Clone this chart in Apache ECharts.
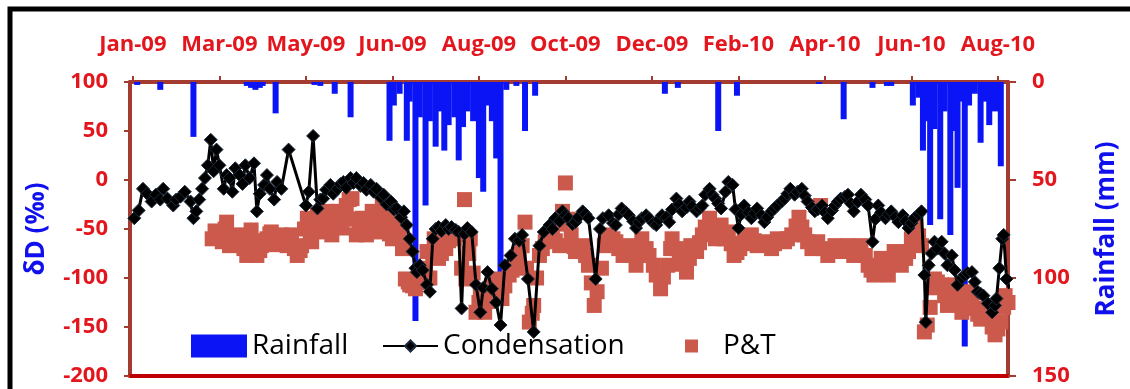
<!DOCTYPE html>
<html>
<head>
<meta charset="utf-8">
<script src="https://cdn.jsdelivr.net/npm/echarts@6/dist/echarts.min.js"></script>
<style>
  html, body { margin: 0; padding: 0; background: #fff; }
  #chart { width: 1130px; height: 389px; }
</style>
</head>
<body>
<div id="chart"></div>
<script>
// x values are days counted from 1 Jan 2009
const tickDays = [0, 60, 120, 180, 240, 300, 360, 420, 480, 540, 600];
const tickLabels = ["Jan-09", "Mar-09", "May-09", "Jun-09", "Aug-09", "Oct-09",
  "Dec-09", "Feb-10", "Apr-10", "Jun-10", "Aug-10"];

// daily rainfall (mm), [day, mm]
const rainfall = [
  [3, 1.5], [19, 4], [42, 28], [79, 2], [82, 3], [85, 4], [88, 3], [90, 2], [99, 16],
  [126, 1.5], [130, 2], [140, 6], [151, 18], [178, 30], [181, 12], [185, 6], [190, 30],
  [192, 10], [196, 122], [199, 18], [203, 63], [206, 20], [210, 33], [213, 15], [216, 35],
  [219, 22], [223, 18], [226, 40], [229, 23], [232, 15], [236, 20], [240, 49], [243, 56],
  [246, 12], [249, 20], [252, 39], [255, 97], [259, 4], [266, 2], [272, 25], [279, 7],
  [369, 6], [378, 3], [406, 25], [419, 7], [476, 1], [493, 19], [513, 3], [523, 2],
  [526, 2], [541, 12], [545, 8], [548, 35], [551, 20], [553, 73], [556, 24], [560, 70],
  [563, 15], [567, 78], [570, 25], [572, 54], [575, 10], [577, 135], [580, 12], [584, 6],
  [588, 31], [591, 10], [594, 22], [598, 15], [602, 43]
];

// condensation dD (permil), [day, value]
const condensation = [
  [1, -39], [4, -31], [7, -9], [10, -14], [13, -22], [16, -15], [19, -20], [21, -9],
  [24, -19], [28, -26], [30, -20], [33, -17], [36, -12], [40, -22], [42, -39], [44, -32],
  [46, -20], [48, -9], [50, 2], [52, 15], [54, 41], [56, 9], [58, 31], [60, 15],
  [63, -9], [65, 5], [67, 2], [69, -12], [71, 12], [74, 5], [76, -4], [78, 15],
  [81, 2], [84, 17], [86, -32], [88, -14], [91, -5], [93, 5], [95, -9], [98, -20],
  [100, -2], [103, -9], [108, 31], [120, -26], [122, -12], [125, 45], [128, -29],
  [130, -20], [132, -19], [134, -10], [137, -5], [139, -14], [142, -9], [144, -4],
  [146, -2], [148, -8], [151, 2], [153, -3], [155, 2], [158, -6], [160, -3], [162, -10],
  [165, -5], [167, -12], [169, -9], [172, -18], [174, -15], [176, -25], [179, -22],
  [181, -30], [183, -29], [186, -38], [188, -32], [190, -46], [192, -60], [194, -73],
  [196, -90], [197, -94], [199, -87], [201, -92], [204, -107], [206, -114], [208, -60],
  [210, -50], [212, -48], [214, -52], [217, -46], [219, -50], [221, -48], [224, -51],
  [226, -53], [228, -131], [230, -55], [232, -49], [235, -53], [238, -107], [241, -135],
  [243, -110], [246, -94], [249, -111], [252, -125], [255, -148], [258, -87], [262, -77],
  [265, -60], [268, -62], [270, -56], [274, -101], [278, -155], [282, -67], [285, -53],
  [289, -46], [291, -50], [293, -39], [296, -42], [298, -32], [300, -36], [302, -39],
  [305, -45], [307, -43], [309, -38], [312, -32], [314, -35], [316, -39], [321, -101],
  [324, -50], [326, -39], [330, -36], [333, -44], [335, -46], [337, -35], [339, -29],
  [342, -33], [344, -36], [347, -42], [349, -49], [351, -43], [353, -39], [356, -36],
  [358, -39], [361, -44], [363, -46], [365, -40], [367, -36], [370, -38], [372, -43],
  [374, -30], [377, -19], [379, -25], [381, -32], [384, -28], [386, -22], [388, -27],
  [391, -32], [393, -29], [395, -26], [397, -15], [400, -9], [402, -15], [404, -19],
  [406, -24], [408, -29], [411, -12], [413, -2], [416, -5], [418, -30], [420, -49],
  [422, -35], [424, -26], [427, -33], [429, -39], [431, -34], [433, -29], [436, -36],
  [438, -43], [440, -38], [443, -32], [445, -29], [447, -26], [450, -22], [452, -19],
  [454, -14], [456, -9], [459, -15], [461, -12], [464, -9], [466, -16], [468, -22],
  [471, -28], [473, -32], [475, -30], [478, -26], [480, -33], [482, -39], [485, -31],
  [487, -26], [489, -22], [491, -19], [494, -17], [496, -15], [498, -24], [500, -32],
  [503, -22], [505, -15], [508, -20], [510, -26], [513, -63], [515, -40], [517, -26],
  [519, -33], [522, -39], [524, -35], [526, -32], [529, -38], [531, -43], [534, -36],
  [536, -42], [538, -49], [540, -44], [542, -39], [545, -35], [547, -32], [549, -97],
  [550, -145], [552, -87], [554, -75], [556, -63], [558, -70], [561, -63], [563, -75],
  [565, -87], [568, -77], [570, -92], [572, -107], [575, -100], [577, -97], [579, -95],
  [582, -94], [584, -104], [586, -114], [588, -116], [590, -118], [593, -126],
  [596, -135], [598, -128], [599, -121], [601, -90], [603, -60], [604, -56], [606, -101],
  [608, -111]
];

// precipitation & throughfall dD (permil), [day, value]
const pAndT = [
  [55, -60], [57, -52], [59, -55], [62, -63], [64, -50], [65, -43], [67, -67], [70, -58],
  [72, -56], [75, -60], [77, -70], [79, -77], [81, -60], [82, -51], [84, -66], [86, -77],
  [88, -72], [89, -67], [91, -62], [93, -60], [95, -55], [96, -53], [98, -66], [100, -63],
  [102, -58], [103, -56], [105, -62], [107, -67], [109, -60], [110, -56], [112, -70],
  [114, -77], [116, -72], [117, -67], [119, -50], [121, -39], [123, -55], [124, -63],
  [126, -45], [128, -36], [130, -48], [131, -53], [133, -40], [135, -32], [137, -50],
  [138, -56], [140, -45], [142, -32], [143, -42], [145, -49], [147, -35], [148, -26],
  [150, -20], [152, -19], [154, -40], [155, -56], [157, -45], [159, -39], [161, -50],
  [162, -56], [164, -40], [166, -32], [168, -45], [169, -53], [171, -35], [173, -26],
  [175, -36], [176, -43], [178, -55], [180, -60], [182, -45], [183, -39], [185, -55],
  [187, -70], [189, -101], [191, -104], [192, -107], [194, -108], [196, -111],
  [197, -105], [199, -101], [201, -104], [203, -90], [204, -73], [206, -100], [208, -75],
  [209, -60], [211, -72], [212, -80], [214, -75], [217, -70], [219, -62], [221, -56],
  [223, -60], [225, -56], [228, -90], [230, -20], [231, -101], [233, -75], [234, -60],
  [236, -95], [238, -135], [240, -125], [241, -118], [243, -128], [244, -135],
  [246, -124], [248, -114], [250, -108], [252, -101], [254, -112], [256, -121],
  [258, -108], [261, -97], [263, -92], [265, -87], [268, -76], [270, -67], [272, -43],
  [273, -90], [275, -145], [277, -136], [278, -128], [280, -100], [282, -77], [284, -70],
  [286, -63], [289, -60], [291, -56], [293, -62], [296, -67], [297, -45], [298, -32],
  [300, -3], [302, -40], [304, -56], [306, -68], [307, -73], [310, -70], [312, -67],
  [314, -77], [316, -87], [318, -105], [320, -128], [322, -114], [325, -90], [327, -67],
  [329, -60], [330, -56], [333, -60], [335, -63], [337, -70], [340, -77], [342, -72],
  [344, -67], [346, -75], [349, -87], [351, -73], [353, -60], [356, -70], [358, -77],
  [361, -87], [363, -97], [366, -111], [368, -99], [371, -87], [373, -70], [374, -60],
  [377, -70], [379, -80], [381, -86], [384, -94], [386, -80], [387, -67], [389, -70],
  [391, -73], [393, -64], [395, -56], [397, -48], [400, -39], [402, -50], [404, -60],
  [406, -53], [408, -46], [410, -60], [413, -53], [415, -65], [417, -77], [419, -74],
  [421, -70], [423, -65], [424, -60], [427, -58], [429, -56], [431, -62], [433, -67],
  [436, -65], [438, -63], [440, -66], [443, -70], [445, -65], [447, -60], [450, -62],
  [452, -63], [454, -60], [457, -56], [460, -47], [462, -38], [464, -48], [466, -56],
  [468, -63], [471, -70], [473, -66], [475, -63], [477, -26], [479, -70], [482, -77],
  [484, -72], [487, -67], [489, -70], [491, -73], [494, -70], [496, -67], [498, -72],
  [500, -77], [503, -72], [505, -67], [508, -77], [510, -87], [512, -92], [514, -97],
  [517, -88], [519, -80], [521, -88], [524, -97], [526, -85], [528, -73], [531, -80],
  [533, -87], [536, -80], [538, -73], [540, -60], [542, -46], [545, -57], [547, -67],
  [549, -155], [551, -148], [553, -130], [555, -110], [556, -101], [558, -104],
  [561, -107], [563, -118], [565, -128], [568, -117], [570, -107], [572, -121],
  [575, -135], [577, -125], [579, -114], [582, -122], [584, -131], [586, -137],
  [588, -142], [591, -135], [593, -140], [596, -150], [598, -158], [600, -152],
  [602, -145], [604, -130], [605, -118], [607, -125]
];

const RED = "#e3161e";
const BLUE = "#1010ee";
const BROWN = "#a33b30";
const FONT = '"Open Sans", "DejaVu Sans", sans-serif';

const chart = echarts.init(document.getElementById("chart"), null, { renderer: "canvas" });

const legendText = { color: "#000", fontSize: 28, fontFamily: FONT };
const tickText = { color: RED, fontSize: 22, fontWeight: "bold", fontFamily: FONT };

chart.setOption({
  animation: false,
  backgroundColor: "#fff",
  textStyle: { fontFamily: FONT },
  grid: { left: 130, right: 122, top: 82, bottom: 13, containLabel: false },
  graphic: [{
    type: "rect",
    shape: { x: 10, y: 9, width: 1140, height: 400 },
    style: { fill: "rgba(0,0,0,0)", stroke: "#000", lineWidth: 5 }
  }],
  legend: [
    {
      data: ["Rainfall"], left: 186, top: 327, itemWidth: 56, itemHeight: 23,
      icon: "rect", itemGap: 0, textStyle: legendText
    },
    {
      data: ["Condensation"], left: 377, top: 327, itemWidth: 55, itemHeight: 14,
      itemGap: 0, textStyle: legendText
    },
    {
      data: ["P&T"], left: 680, top: 327, itemWidth: 13, itemHeight: 13, icon: "rect",
      itemGap: 0, textStyle: { ...legendText, padding: [0, 0, 0, 20] }
    }
  ],
  xAxis: [
    {
      type: "value", position: "top", min: -2, max: 607,
      axisLine: { onZero: false, lineStyle: { color: BROWN, width: 4 } },
      axisTick: { show: true, length: 6, customValues: tickDays, lineStyle: { color: BROWN, width: 2 } },
      axisLabel: {
        ...tickText,
        customValues: tickDays,
        formatter: (v) => tickLabels[tickDays.indexOf(v)],
        margin: 26
      },
      splitLine: { show: false }
    },
    {
      type: "value", position: "bottom", min: -2, max: 607,
      axisLine: { onZero: false, lineStyle: { color: "#c00000", width: 4 } },
      axisTick: { show: false }, axisLabel: { show: false }, splitLine: { show: false }
    }
  ],
  yAxis: [
    {
      type: "value", position: "left", min: -200, max: 100, interval: 50,
      name: "δD (‰)", nameLocation: "middle", nameGap: 80, nameRotate: 90,
      nameTextStyle: { color: BLUE, fontSize: 26, fontWeight: "bold", fontFamily: FONT },
      axisLine: { show: true, onZero: false, lineStyle: { color: BROWN, width: 4 } },
      axisTick: { show: true, length: 6, lineStyle: { color: BROWN, width: 2 } },
      axisLabel: { ...tickText, margin: 22 },
      splitLine: { show: false }
    },
    {
      type: "value", position: "right", min: 0, max: 150, interval: 50, inverse: true,
      name: "Rainfall (mm)", nameLocation: "middle", nameGap: 86, nameRotate: 90,
      nameTextStyle: { color: BLUE, fontSize: 26, fontWeight: "bold", fontFamily: FONT },
      axisLine: { show: true, onZero: false, lineStyle: { color: BROWN, width: 4 } },
      axisTick: { show: true, length: 8, lineStyle: { color: BROWN, width: 2 } },
      axisLabel: { ...tickText, margin: 24 },
      splitLine: { show: false }
    }
  ],
  series: [
    {
      name: "P&T", type: "scatter", xAxisIndex: 0, yAxisIndex: 0,
      symbol: "rect", symbolSize: 15,
      itemStyle: { color: "#cc5a4c", opacity: 1 },
      data: pAndT
    },
    {
      name: "Rainfall", type: "bar", xAxisIndex: 0, yAxisIndex: 1,
      barWidth: 6, itemStyle: { color: "#0a14f5" },
      data: rainfall
    },
    {
      name: "Condensation", type: "line", xAxisIndex: 0, yAxisIndex: 0,
      symbol: "diamond", symbolSize: 13, showSymbol: true,
      lineStyle: { color: "#000", width: 3 },
      itemStyle: { color: "#000", borderColor: "#1d2b3c", borderWidth: 1 },
      data: condensation
    }
  ]
});
</script>
</body>
</html>
